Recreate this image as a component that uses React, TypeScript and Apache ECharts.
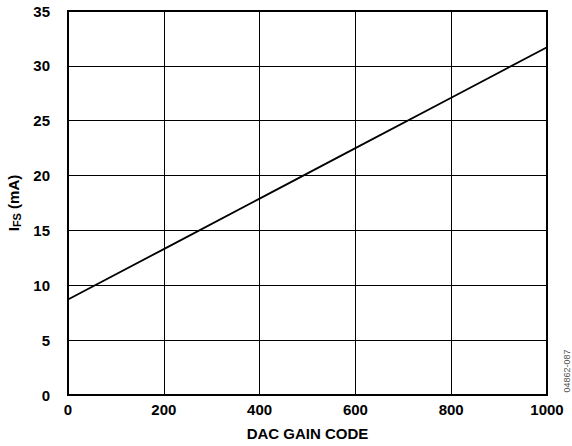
import React, { useEffect, useRef } from "react";
import * as echarts from "echarts";

const xCodes = [0, 200, 400, 600, 800, 1000];
const iFs = [8.7, 13.3, 17.9, 22.5, 27.1, 31.7];
const xTicks = [0, 200, 400, 600, 800, 1000];
const yTicks = [0, 5, 10, 15, 20, 25, 30, 35];
const xTitle = "DAC GAIN CODE";
const figId = "04862-087";

export default function App() {
  const ref = useRef<HTMLDivElement>(null);
  useEffect(() => {
    document.body.style.margin = "0";
    const chart = echarts.init(ref.current!, null, { renderer: "svg" });
    const font = "'Liberation Sans', Arial, sans-serif";
    chart.setOption({
      animation: false,
      backgroundColor: "#fff",
      grid: { left: 68, top: 11, width: 479, height: 384, containLabel: false, outerBoundsMode: "none" },
      xAxis: {
        type: "value",
        min: xTicks[0],
        max: xTicks[xTicks.length - 1],
        interval: 200,
        name: xTitle,
        nameLocation: "middle",
        nameGap: 31,
        nameTextStyle: { fontFamily: font, fontWeight: "bold", fontSize: 15, color: "#000" },
        axisLine: { show: true, lineStyle: { color: "#000", width: 2 } },
        axisTick: { show: false },
        axisLabel: {
          fontFamily: font,
          fontWeight: "bold",
          fontSize: 15,
          color: "#000",
          margin: 7,
          formatter: (v: number) => String(v),
        },
        splitLine: { show: true, lineStyle: { color: "#000", width: 1 } },
      },
      yAxis: {
        type: "value",
        min: yTicks[0],
        max: yTicks[yTicks.length - 1],
        interval: 5,
        name: "{a|I}{b|FS}{a| (mA)}",
        nameLocation: "middle",
        nameGap: 46,
        nameRotate: 90,
        nameTextStyle: {
          rich: {
            a: { fontFamily: font, fontWeight: "bold", fontSize: 15, color: "#000" },
            b: { fontFamily: font, fontWeight: "bold", fontSize: 11, color: "#000", verticalAlign: "bottom", padding: [7, 0, 0, 0] },
          },
        },
        axisLine: { show: true, lineStyle: { color: "#000", width: 2 } },
        axisTick: { show: false },
        axisLabel: { fontFamily: font, fontWeight: "bold", fontSize: 15, color: "#000", margin: 18 },
        splitLine: { show: true, lineStyle: { color: "#000", width: 1 } },
      },
      graphic: [
        {
          type: "rect",
          shape: { x: 68, y: 11, width: 479, height: 384 },
          style: { fill: "none", stroke: "#000", lineWidth: 2 },
          silent: true,
          z: 10,
        },
        {
          type: "text",
          x: 567,
          y: 371,
          rotation: Math.PI / 2,
          style: {
            text: figId,
            fontFamily: font,
            fontSize: 9,
            fill: "#555",
            align: "center",
            verticalAlign: "middle",
          },
        },
      ],
      series: [
        {
          type: "line",
          data: xCodes.map((x, i) => [x, iFs[i]]),
          showSymbol: false,
          lineStyle: { color: "#000", width: 1.8 },
          z: 5,
        },
      ],
    });
    return () => chart.dispose();
  }, []);
  return <div ref={ref} style={{ width: 572, height: 446 }} />;
}
